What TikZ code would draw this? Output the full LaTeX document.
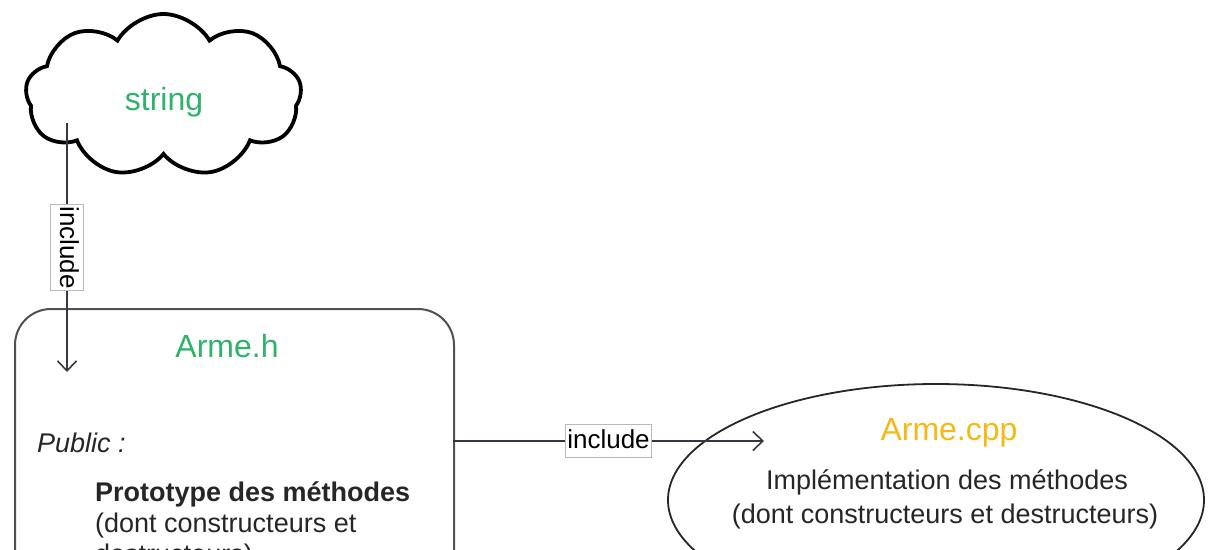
\documentclass[tikz,border=0pt]{standalone}
\usepackage{fontspec}
\setmainfont{Liberation Sans}
\usetikzlibrary{shapes.symbols,shapes.geometric,arrows.meta}
\definecolor{titlegreen}{RGB}{45,180,105}
\definecolor{cppyellow}{RGB}{245,185,20}
\definecolor{linegray}{RGB}{55,55,68}
\definecolor{boxgray}{RGB}{80,80,80}
\tikzset{
  conn/.style={draw=linegray, line width=2.4pt, -{Straight Barb[length=10pt,width=19pt,line width=1.6pt]}},
  lbl/.style={fill=white, draw=gray!55, line width=0.8pt, inner xsep=1.5pt, inner ysep=3.5pt,
    text height=20pt, text depth=6pt, text=black, font=\fontsize{26}{30}\selectfont},
  title/.style={font=\fontsize{32}{38}\selectfont, inner sep=0pt, anchor=base},
  body/.style={font=\fontsize{27}{32}\selectfont, inner sep=0pt, text=black!85},
}
\begin{document}
\begin{tikzpicture}[x=1pt,y=-1pt]
\useasboundingbox (0,0) rectangle (1217,549);
\clip (0,0) rectangle (1217,549);
\fill[white] (0,0) rectangle (1217,549);
% cloud
\node[cloud, draw=black, line width=3.8pt, cloud puffs=9, cloud puff arc=120,
  minimum width=276pt, minimum height=163pt, inner sep=0pt] (cloud) at (163.5,95.5) {};
\node[title, text=titlegreen] (str) at (164,110) {string};
% Arme.h box
\node[draw=boxgray, line width=2pt, rounded corners=36pt, anchor=north west,
  minimum width=439pt, minimum height=420pt, inner sep=0pt] (armeh) at (14,308) {};
\node[title, text=titlegreen] (armehT) at (227,357) {Arme.h};
\node[body, anchor=base west] (pub) at (37,452) {\itshape Public :};
\node[body, anchor=base west] (proto) at (95,501) {\bfseries Prototype des méthodes};
\node[body, anchor=base west] (dont1) at (95,532) {(dont constructeurs et};
\node[body, anchor=base west] (dont2) at (95,563) {destructeurs)};
% Arme.cpp ellipse
\node[ellipse, draw=black!85, line width=1.8pt, minimum width=536pt, minimum height=232pt,
  inner sep=0pt] (cpp) at (936,500) {};
\node[title, text=cppyellow] (cppT) at (949,440) {Arme.cpp};
\node[body, anchor=base] (impl1) at (947,489) {Implémentation des méthodes};
\node[body, anchor=base] (impl2) at (945,523) {(dont constructeurs et destructeurs)};
% connectors
\coordinate (vstart) at (67,123);
\coordinate (vend) at (67,372);
\coordinate (hstart) at (453,441);
\coordinate (hend) at (764,441);
\draw[conn] (vstart) -- node[lbl, rotate=-90] (inc1) {include} (vend);
\draw[conn] (hstart) -- node[lbl] (inc2) {include} (hend);
\end{tikzpicture}
\end{document}
